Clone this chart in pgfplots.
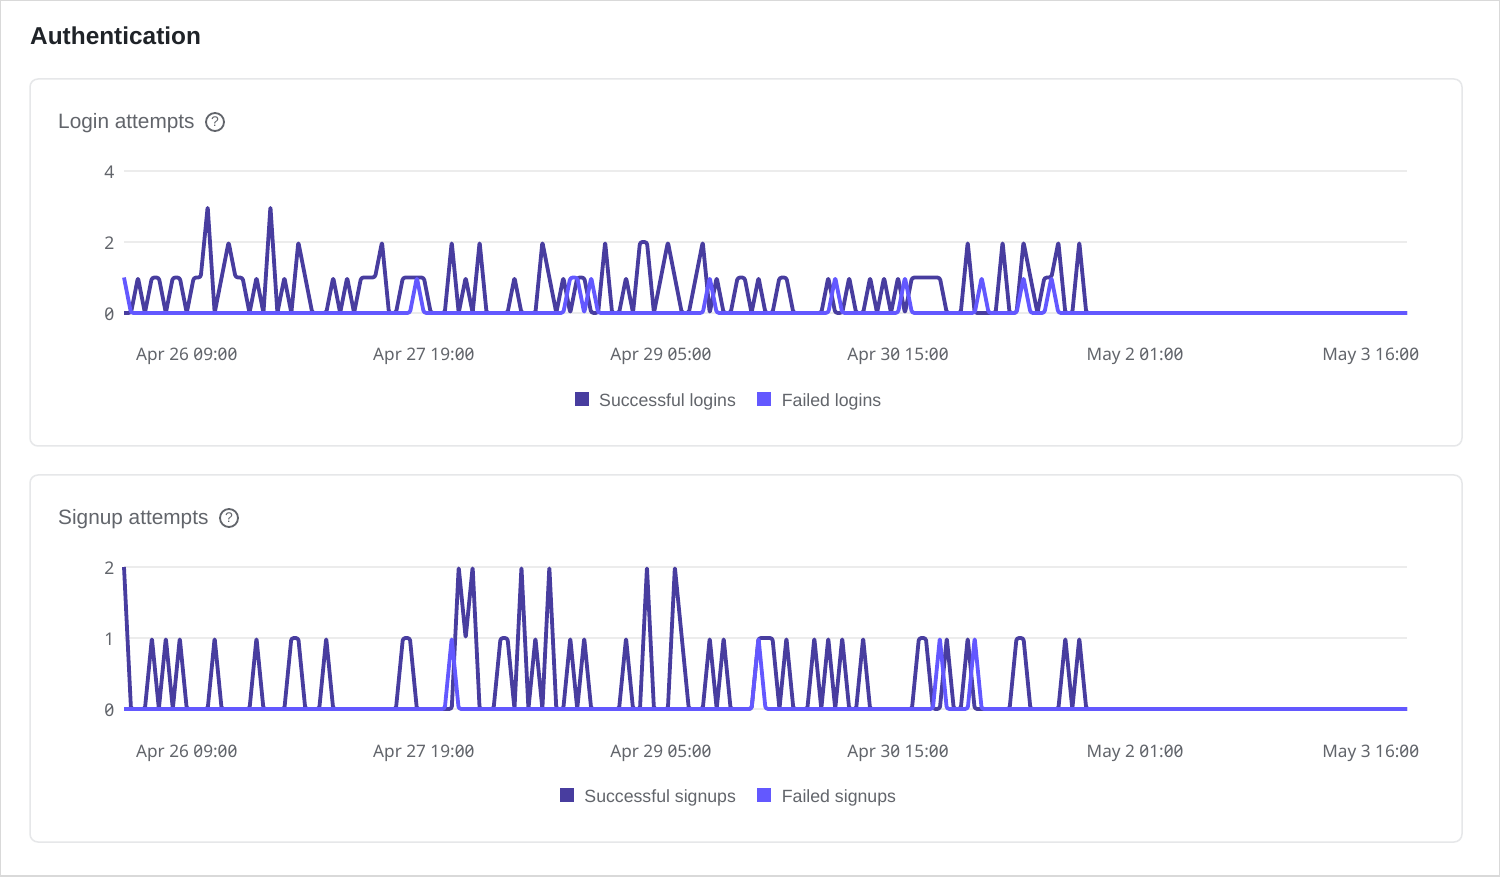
\documentclass[border=0pt]{standalone}
\usepackage{fontspec}
\usepackage{pgfplots}
\usepackage{pgfplotstable}
\pgfplotsset{compat=1.18}
\setmainfont{Liberation Sans}
\newfontfamily\tickfont[RawFeature=+zero]{Noto Sans}
\definecolor{okcol}{HTML}{483D9F}
\definecolor{failcol}{HTML}{6358FF}
\definecolor{gridcol}{HTML}{ECECEC}
\definecolor{cardcol}{HTML}{E6E7E9}
\definecolor{framecol}{HTML}{D9D9D9}
\definecolor{titlecol}{HTML}{1F2328}
\definecolor{labelcol}{HTML}{62656B}

% hourly values from Apr 26 00:00: hour, successful, failed
\pgfplotstableread[row sep=\\]{
h ok fail\\
0 0 1\\1 0 0\\2 1 0\\3 0 0\\4 1 0\\5 1 0\\6 0 0\\7 1 0\\8 1 0\\9 0 0\\
10 1 0\\11 1 0\\12 3 0\\13 0 0\\14 1 0\\15 2 0\\16 1 0\\17 1 0\\18 0 0\\19 1 0\\
20 0 0\\21 3 0\\22 0 0\\23 1 0\\24 0 0\\25 2 0\\26 1 0\\27 0 0\\28 0 0\\29 0 0\\
30 1 0\\31 0 0\\32 1 0\\33 0 0\\34 1 0\\35 1 0\\36 1 0\\37 2 0\\38 0 0\\39 0 0\\
40 1 0\\41 1 0\\42 1 1\\43 1 0\\44 0 0\\45 0 0\\46 0 0\\47 2 0\\48 0 0\\49 1 0\\
50 0 0\\51 2 0\\52 0 0\\53 0 0\\54 0 0\\55 0 0\\56 1 0\\57 0 0\\58 0 0\\59 0 0\\
60 2 0\\61 1 0\\62 0 0\\63 1 0\\64 0 1\\65 1 1\\66 1 0\\67 0 1\\68 0 0\\69 2 0\\
70 0 0\\71 0 0\\72 1 0\\73 0 0\\74 2 0\\75 2 0\\76 0 0\\77 1 0\\78 2 0\\79 1 0\\
80 0 0\\81 0 0\\82 1 0\\83 2 0\\84 0 1\\85 1 0\\86 0 0\\87 0 0\\88 1 0\\89 1 0\\
90 0 0\\91 1 0\\92 0 0\\93 0 0\\94 1 0\\95 1 0\\96 0 0\\97 0 0\\98 0 0\\99 0 0\\
100 0 0\\101 1 0\\102 0 1\\103 0 0\\104 1 0\\105 0 0\\106 0 0\\107 1 0\\108 0 0\\109 1 0\\
110 0 0\\111 1 0\\112 0 1\\113 1 0\\114 1 0\\115 1 0\\116 1 0\\117 1 0\\118 0 0\\119 0 0\\
120 0 0\\121 2 0\\122 0 0\\123 0 1\\124 0 0\\125 0 0\\126 2 0\\127 0 0\\128 0 0\\129 2 1\\
130 1 0\\131 0 0\\132 1 0\\133 1 1\\134 2 0\\135 0 0\\136 0 0\\137 2 0\\138 0 0\\139 0 0\\
140 0 0\\184 0 0\\
}\logins

\pgfplotstableread[row sep=\\]{
h ok fail\\
0 2 0\\1 0 0\\2 0 0\\3 0 0\\4 1 0\\5 0 0\\6 1 0\\7 0 0\\8 1 0\\9 0 0\\
10 0 0\\11 0 0\\12 0 0\\13 1 0\\14 0 0\\15 0 0\\16 0 0\\17 0 0\\18 0 0\\19 1 0\\
20 0 0\\21 0 0\\22 0 0\\23 0 0\\24 1 0\\25 1 0\\26 0 0\\27 0 0\\28 0 0\\29 1 0\\
30 0 0\\31 0 0\\32 0 0\\33 0 0\\34 0 0\\35 0 0\\36 0 0\\37 0 0\\38 0 0\\39 0 0\\
40 1 0\\41 1 0\\42 0 0\\43 0 0\\44 0 0\\45 0 0\\46 0 0\\47 0 1\\48 2 0\\49 1 0\\
50 2 0\\51 0 0\\52 0 0\\53 0 0\\54 1 0\\55 1 0\\56 0 0\\57 2 0\\58 0 0\\59 1 0\\
60 0 0\\61 2 0\\62 0 0\\63 0 0\\64 1 0\\65 0 0\\66 1 0\\67 0 0\\68 0 0\\69 0 0\\
70 0 0\\71 0 0\\72 1 0\\73 0 0\\74 0 0\\75 2 0\\76 0 0\\77 0 0\\78 0 0\\79 2 0\\
80 1 0\\81 0 0\\82 0 0\\83 0 0\\84 1 0\\85 0 0\\86 1 0\\87 0 0\\88 0 0\\89 0 0\\
90 0 0\\91 1 1\\92 1 0\\93 1 0\\94 0 0\\95 1 0\\96 0 0\\97 0 0\\98 0 0\\99 1 0\\
100 0 0\\101 1 0\\102 0 0\\103 1 0\\104 0 0\\105 0 0\\106 1 0\\107 0 0\\108 0 0\\109 0 0\\
110 0 0\\111 0 0\\112 0 0\\113 0 0\\114 1 0\\115 1 0\\116 0 0\\117 0 1\\118 1 0\\119 0 0\\
120 0 0\\121 1 0\\122 0 1\\123 0 0\\124 0 0\\125 0 0\\126 0 0\\127 0 0\\128 1 0\\129 1 0\\
130 0 0\\131 0 0\\132 0 0\\133 0 0\\134 0 0\\135 1 0\\136 0 0\\137 1 0\\138 0 0\\139 0 0\\
140 0 0\\184 0 0\\
}\signups

\pgfplotsset{
  swatch/.style={legend image code/.code={
    \fill[#1,draw=none,sharp corners] (0pt,-6pt) rectangle (14pt,8pt);
    \path (22.5pt,0pt);}},
  attempts/.style={
    scale only axis, width=1283pt, height=142pt,
    xmin=0, xmax=184, ymin=0, clip=false,
    axis lines=none, axis line style={draw=none},
    hide x axis=false, hide y axis=false,
    ymajorgrids, grid style={gridcol,line width=1.5pt},
    major tick length=0pt,
    xtick={9,43,77,111,145,178.8},
    xticklabels={Apr 26 09:00,Apr 27 19:00,Apr 29 05:00,Apr 30 15:00,May 2 01:00,May 3 16:00},
    xticklabel style={font=\tickfont\fontsize{17.2}{20}\selectfont,text=labelcol,yshift=-32pt},
    yticklabel style={font=\tickfont\fontsize{17.5}{20}\selectfont,text=labelcol,xshift=-6pt,yshift=-1pt},
    /pgf/number format/assume math mode=true,
    legend columns=2,
    legend style={at={(0.4708,-0.613)},anchor=center,draw=none,fill=none,
      font=\fontsize{17.7}{20}\selectfont,text=labelcol,inner sep=0pt,
      /tikz/every even column/.append style={column sep=21.5pt},
      nodes={inner sep=0pt,outer sep=0pt}},
    legend cell align=left,
  },
  series/.style={#1,line width=3.8pt,line join=round,sharp plot,rounded corners=2.5pt},
}

\begin{document}
\begin{tikzpicture}[x=1pt,y=1pt]
  \path[use as bounding box] (0,0) rectangle (1500,876);
  \fill[white] (0,0) rectangle (1500,876);
  \draw[framecol,line width=2pt] (0,0) rectangle (1500,876);
  \draw[cardcol,line width=1.5pt,rounded corners=8pt] (30,430) rectangle (1462,797);
  \draw[cardcol,line width=1.5pt,rounded corners=8pt] (30,34) rectangle (1462,401);

  \node[anchor=base west,inner sep=0pt,text=titlecol,font=\fontsize{24.4}{28}\selectfont\bfseries] at (30,831) {Authentication};
  \node[anchor=base west,inner sep=0pt,text=labelcol,font=\fontsize{20.8}{24}\selectfont] at (58,747) {Login attempts};
  \node[circle,draw=labelcol,line width=1.8pt,minimum size=18pt,inner sep=0pt,text=labelcol,font=\fontsize{14}{15}\selectfont] at (215,754) {?};
  \node[anchor=base west,inner sep=0pt,text=labelcol,font=\fontsize{20.8}{24}\selectfont] at (58,351) {Signup attempts};
  \node[circle,draw=labelcol,line width=1.8pt,minimum size=18pt,inner sep=0pt,text=labelcol,font=\fontsize{14}{15}\selectfont] at (229,358) {?};

  \begin{axis}[attempts, at={(124pt,563pt)}, anchor=south west, ymax=4, ytick={0,2,4}]
    \addplot[series=okcol, swatch=okcol] table[x=h,y=ok] {\logins};
    \addlegendentry{Successful logins}
    \addplot[series=failcol, swatch=failcol] table[x=h,y=fail] {\logins};
    \addlegendentry{Failed logins}
  \end{axis}

  \begin{axis}[attempts, at={(124pt,167pt)}, anchor=south west, ymax=2, ytick={0,1,2}]
    \addplot[series=okcol, swatch=okcol] table[x=h,y=ok] {\signups};
    \addlegendentry{Successful signups}
    \addplot[series=failcol, swatch=failcol] table[x=h,y=fail] {\signups};
    \addlegendentry{Failed signups}
  \end{axis}
\end{tikzpicture}
\end{document}
